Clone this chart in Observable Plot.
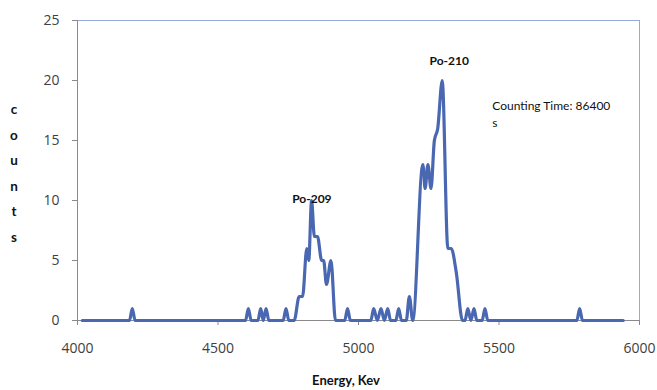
<!DOCTYPE html>
<html><head><meta charset="utf-8">
<script src="https://cdn.jsdelivr.net/npm/d3@7"></script>
<script src="https://cdn.jsdelivr.net/npm/@observablehq/plot@0.6"></script>
<style>body{margin:0;background:#fff} svg{display:block}</style>
</head><body><div id="chart"></div>
<script>
// Energy (keV) and counts
const energy = [4017, 4185, 4195, 4205,
  4598, 4608, 4618,
  4642, 4652, 4661, 4671, 4681,
  4732, 4742, 4752,
  4771, 4789, 4801, 4816, 4823, 4833, 4843, 4854, 4869, 4876, 4886, 4902, 4918,
  4951, 4961, 4971,
  5044, 5054, 5067, 5080, 5092, 5104, 5114,
  5133, 5143, 5153,
  5170, 5181, 5193,
  5229, 5237, 5247, 5258, 5270, 5282, 5298, 5318, 5330, 5348, 5370,
  5379, 5389, 5400, 5411, 5421,
  5440, 5450, 5460,
  5777, 5787, 5797,
  5942];
const counts = [0, 0, 1, 0,
  0, 1, 0,
  0, 1, 0, 1, 0,
  0, 1, 0,
  0, 2, 2, 6, 5, 10, 7, 7, 5, 5, 3, 5, 0,
  0, 1, 0,
  0, 1, 0, 1, 0, 1, 0,
  0, 1, 0,
  0, 2, 0,
  13, 11, 13, 11, 15, 16, 20, 6, 6, 4, 0,
  0, 1, 0, 1, 0,
  0, 1, 0,
  0, 1, 0,
  0];
const xTicks = [4000, 4500, 5000, 5500, 6000];
const yTicks = [0, 5, 10, 15, 20, 25];
const peakLabels = ["Po-209", "Po-210"];
const peakEnergy = [4834, 5323];
const peakCount = [10.1, 21.6];
const noteText = ["Counting Time: 86400\ns"];
const noteEnergy = 5476;
const noteCount = 18.6;
const yLabel = "counts";
const xLabel = "Energy, Kev";

const data = energy.map((e, i) => ({energy: e, count: counts[i]}));
const peaks = peakLabels.map((t, i) => ({t, e: peakEnergy[i], c: peakCount[i]}));

const plot = Plot.plot({
  width: 657, height: 390,
  marginLeft: 77, marginRight: 18, marginTop: 20, marginBottom: 70,
  style: {fontFamily: "'Open Sans', sans-serif", background: "#fff"},
  x: {domain: [4000, 6000]},
  y: {domain: [0, 25]},
  marks: [
    Plot.frame({stroke: "#94abd9"}),
    Plot.axisX({ticks: xTicks, tickSize: 5, tickPadding: 18, stroke: "#8a8a8a", fill: "#404040", fontSize: 14, label: null, tickFormat: d => String(d)}),
    Plot.axisY({ticks: yTicks, tickSize: 5, tickPadding: 13, stroke: "#8a8a8a", fill: "#404040", fontSize: 14, label: null}),
    Plot.ruleX([4000], {stroke: "#8a8a8a"}),
    Plot.ruleY([0], {stroke: "#8a8a8a"}),
    Plot.line(data, {x: "energy", y: "count", curve: "monotone-x", stroke: "#4a68b1", strokeWidth: 3.2, strokeLinejoin: "round"}),
    Plot.text(peaks, {x: "e", y: "c", text: "t", fontFamily: "Lato, sans-serif", fontWeight: "bold", fontSize: 12, fill: "#111"}),
    Plot.text(noteText, {x: noteEnergy, y: noteCount, text: d => d, textAnchor: "start", lineAnchor: "top", lineHeight: 1.45, fontFamily: "Lato, sans-serif", fontSize: 12, fill: "#111"})
  ]
});
document.getElementById("chart").appendChild(plot);

const svg = d3.select(plot);
const yl = svg.append("text")
  .attr("font-family", "Lato, sans-serif").attr("font-weight", "bold")
  .attr("font-size", 13.5).attr("fill", "#111").attr("text-anchor", "middle");
yLabel.split("").forEach((ch, i) => {
  yl.append("tspan").attr("x", 14).attr("y", 114 + i * 25.6).text(ch);
});
svg.append("text")
  .attr("x", 346).attr("y", 385)
  .attr("font-family", "Lato, sans-serif").attr("font-weight", "bold")
  .attr("font-size", 13).attr("fill", "#111").attr("text-anchor", "middle")
  .text(xLabel);
</script>
</body></html>
